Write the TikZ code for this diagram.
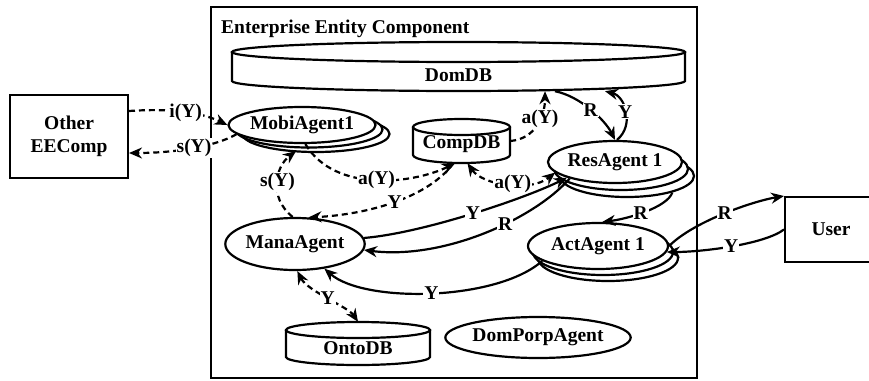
\documentclass[tikz,border=0pt]{standalone}
\usepackage{fontspec}
\setmainfont{Liberation Serif}
\usetikzlibrary{arrows.meta,shapes.geometric,shadows}

\tikzset{
  >={Stealth[length=13pt,width=11pt]},
  agent/.style={ellipse, draw, line width=2.2pt, fill=white, inner sep=0pt},
  box/.style={rectangle, draw, line width=2pt, inner sep=0pt, align=center},
  dbline/.style={line width=2.2pt},
  dbbox/.style={rectangle, inner sep=0pt},
  dbtext/.style={inner sep=0pt},
  link/.style={line width=2.2pt, ->},
  dlink/.style={link, dash pattern=on 6pt off 4pt},
  lbl/.style={fill=white, inner sep=1pt},
}

% database cylinder: name, x, top rim y, bottom rim y, rx, ry, text y, text
\newcommand{\dbcyl}[8]{%
  \pgfmathsetmacro{\dbw}{2*#5}
  \pgfmathsetmacro{\dbh}{#4-#3+2*#6}
  \pgfmathsetmacro{\dbmid}{(#3+#4)/2}
  \pgfmathsetmacro{\dbtx}{\dbmid-#7}
  \draw[dbline] ({#2-#5},#3) -- ({#2-#5},#4)
    arc[start angle=180, end angle=0, x radius=#5, y radius=#6] -- ({#2+#5},#3);
  \draw[dbline] (#2,#3) ellipse [x radius=#5, y radius=#6];
  \node[dbbox, minimum width=\dbw pt, minimum height=\dbh pt,
        label={[dbtext, yshift=\dbtx pt]center:#8}] (#1) at (#2,\dbmid) {};
}

\begin{document}
\begin{tikzpicture}[x=1pt, y=-1pt, font=\fontsize{19.5}{23}\selectfont\bfseries]
  \useasboundingbox (0,0) rectangle (869,380);

  % enterprise entity component frame
  \node[box, minimum width=486pt, minimum height=371pt] (eec) at (454,192.5) {};
  \node[anchor=west, inner sep=0pt] (title) at (221,29) {Enterprise Entity Component};

  % outside boxes
  \node[box, minimum width=118pt, minimum height=83pt] (other) at (69,136.5) {Other\\EEComp};
  \node[box, minimum width=92pt, minimum height=65pt] (user) at (831,229.5) {User};

  % databases
  \dbcyl{domdb}{458.5}{52}{81}{226.5}{10}{75}{DomDB}
  \dbcyl{compdb}{461.5}{127}{155}{48.5}{8}{144}{CompDB}
  \dbcyl{ontodb}{358}{330}{357}{72}{8}{348}{OntoDB}

  % agents
  \node[agent, minimum width=130pt, minimum height=36pt,
        double copy shadow={shadow xshift=7pt, shadow yshift=-4.5pt}] (mobi) at (302,125) {MobiAgent1};
  \node[agent, minimum width=124pt, minimum height=52pt] (mana) at (295,244) {ManaAgent};
  \node[agent, minimum width=125pt, minimum height=42pt,
        double copy shadow={shadow xshift=6pt, shadow yshift=-7pt}] (res) at (615,162) {ResAgent 1};
  \node[agent, minimum width=140pt, minimum height=46pt,
        double copy shadow={shadow xshift=5pt, shadow yshift=-6pt}] (act) at (598,246) {ActAgent 1};
  \node[agent, minimum width=146pt, minimum height=41pt] (domporp) at (538,337.5) {DomPorpAgent};

  % dashed messages
  \draw[dlink] ([yshift=-17pt]other.north east) .. controls +(45,-3) and +(-25,-12) .. (mobi.west)
    node[lbl, pos=0.5] {i(Y)};
  \draw[dlink] (mobi.188) .. controls +(-25,14) and +(40,0) .. ([yshift=-16.5pt]other.east)
    node[lbl, pos=0.45] {s(Y)};
  \draw[dlink] (mana.95) .. controls +(-25,-20) and +(-20,15) .. ([shift={(-6pt,-7pt)}]mobi.south)
    node[lbl, pos=0.5] {s(Y)};
  \draw[dlink] (mobi.-80) .. controls +(30,50) and +(-40,20) .. ([xshift=-6.5pt]compdb.south)
    node[lbl, pos=0.5] {a(Y)};
  \draw[dlink] ([xshift=-8pt]compdb.south) .. controls +(-30,40) and +(45,-2) .. (mana.63)
    node[lbl, pos=0.45] {Y};
  \draw[dlink, <->] ([xshift=6pt]compdb.south) .. controls +(15,22) and +(-25,20) .. (res.190)
    node[lbl, pos=0.55] {a(Y)};
  \draw[dlink] (compdb.east) .. controls +(25,-2) and +(0,25) .. (domdb.south -| 545,0)
    node[lbl, pos=0.6] {a(Y)};
  \draw[dlink, <->] (mana.-85) .. controls +(10,20) and +(-10,-15) .. (ontodb.north)
    node[lbl, pos=0.5] {Y};

  % solid messages
  \draw[link] (domdb.south -| 555,0) .. controls +(25,5) and +(-10,-20) .. (res.north)
    node[lbl, pos=0.5] {R};
  \draw[link] ([xshift=2pt]res.north) .. controls +(18,-15) and +(20,5) .. (domdb.south -| 605,0)
    node[lbl, pos=0.5] {Y};
  \draw[link] (mana.5) .. controls +(60,-5) and +(-40,20) .. (res.198)
    node[lbl, pos=0.5] {Y};
  \draw[link] (res.200) .. controls +(-35,40) and +(80,10) .. (mana.-5)
    node[lbl, pos=0.4] {R};
  \draw[link] ([shift={(12pt,-14pt)}]res.-20) .. controls +(-5,15) and +(25,-3) .. (act.80)
    node[lbl, pos=0.55] {R};
  \draw[link] (act.east) .. controls +(25,-25) and +(-30,5) .. (user.north west)
    node[lbl, pos=0.5] {R};
  \draw[link] (user.west) .. controls +(-20,15) and +(35,0) .. (act.-5)
    node[lbl, pos=0.5] {Y};
  \draw[link] (act.195) .. controls +(-45,40) and +(40,35) .. (mana.-40)
    node[lbl, pos=0.5] {Y};
\end{tikzpicture}
\end{document}
